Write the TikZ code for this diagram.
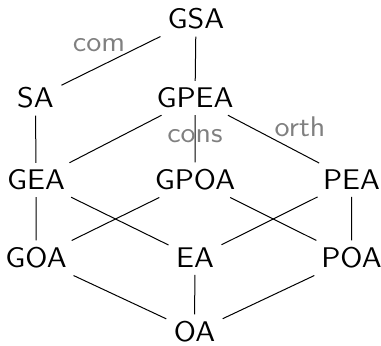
\documentclass[tikz,border=0pt]{standalone}
\begin{document}
\begin{tikzpicture}[x=0.5pt,y=-0.5pt,
    every node/.style={font=\sffamily\fontsize{14.2}{17}\selectfont, xscale=1.08},
    lbl/.style={text=gray}]
        \useasboundingbox (0,0) rectangle (381,346);

        % Draw the lattice nodes, row by row
        \node (gsa) at (196,19) {GSA};
        \node (sa) at (35.5,98) {SA};
        \node (gpea) at (195,98) {GPEA};
        \node (gea) at (36,180) {GEA};
        \node (gpoa) at (195,180) {GPOA};
        \node (pea) at (351.5,180) {PEA};
        \node (goa) at (36,258) {GOA};
        \node (ea) at (195,258) {EA};
        \node (poa) at (351.5,258) {POA};
        \node (oa) at (194.5,332) {OA};

        % Draw the edges
        \foreach \a/\b in {gsa/sa, gsa/gpea, sa/gea, gpea/gea, gpea/gpoa, gpea/pea,
                           gea/goa, gea/ea, gpoa/goa, gpoa/poa, pea/ea, pea/poa,
                           goa/oa, ea/oa, poa/oa} {
            \draw[line width=0.5pt] (\a) -- (\b);
        }

        % Add the edge labels
        \node[lbl] (com) at (99,45) {com};
        \node[lbl] (cons) at (195,136.5) {cons};
        \node[lbl] (orth) at (300,127) {orth};
    \end{tikzpicture}
\end{document}
